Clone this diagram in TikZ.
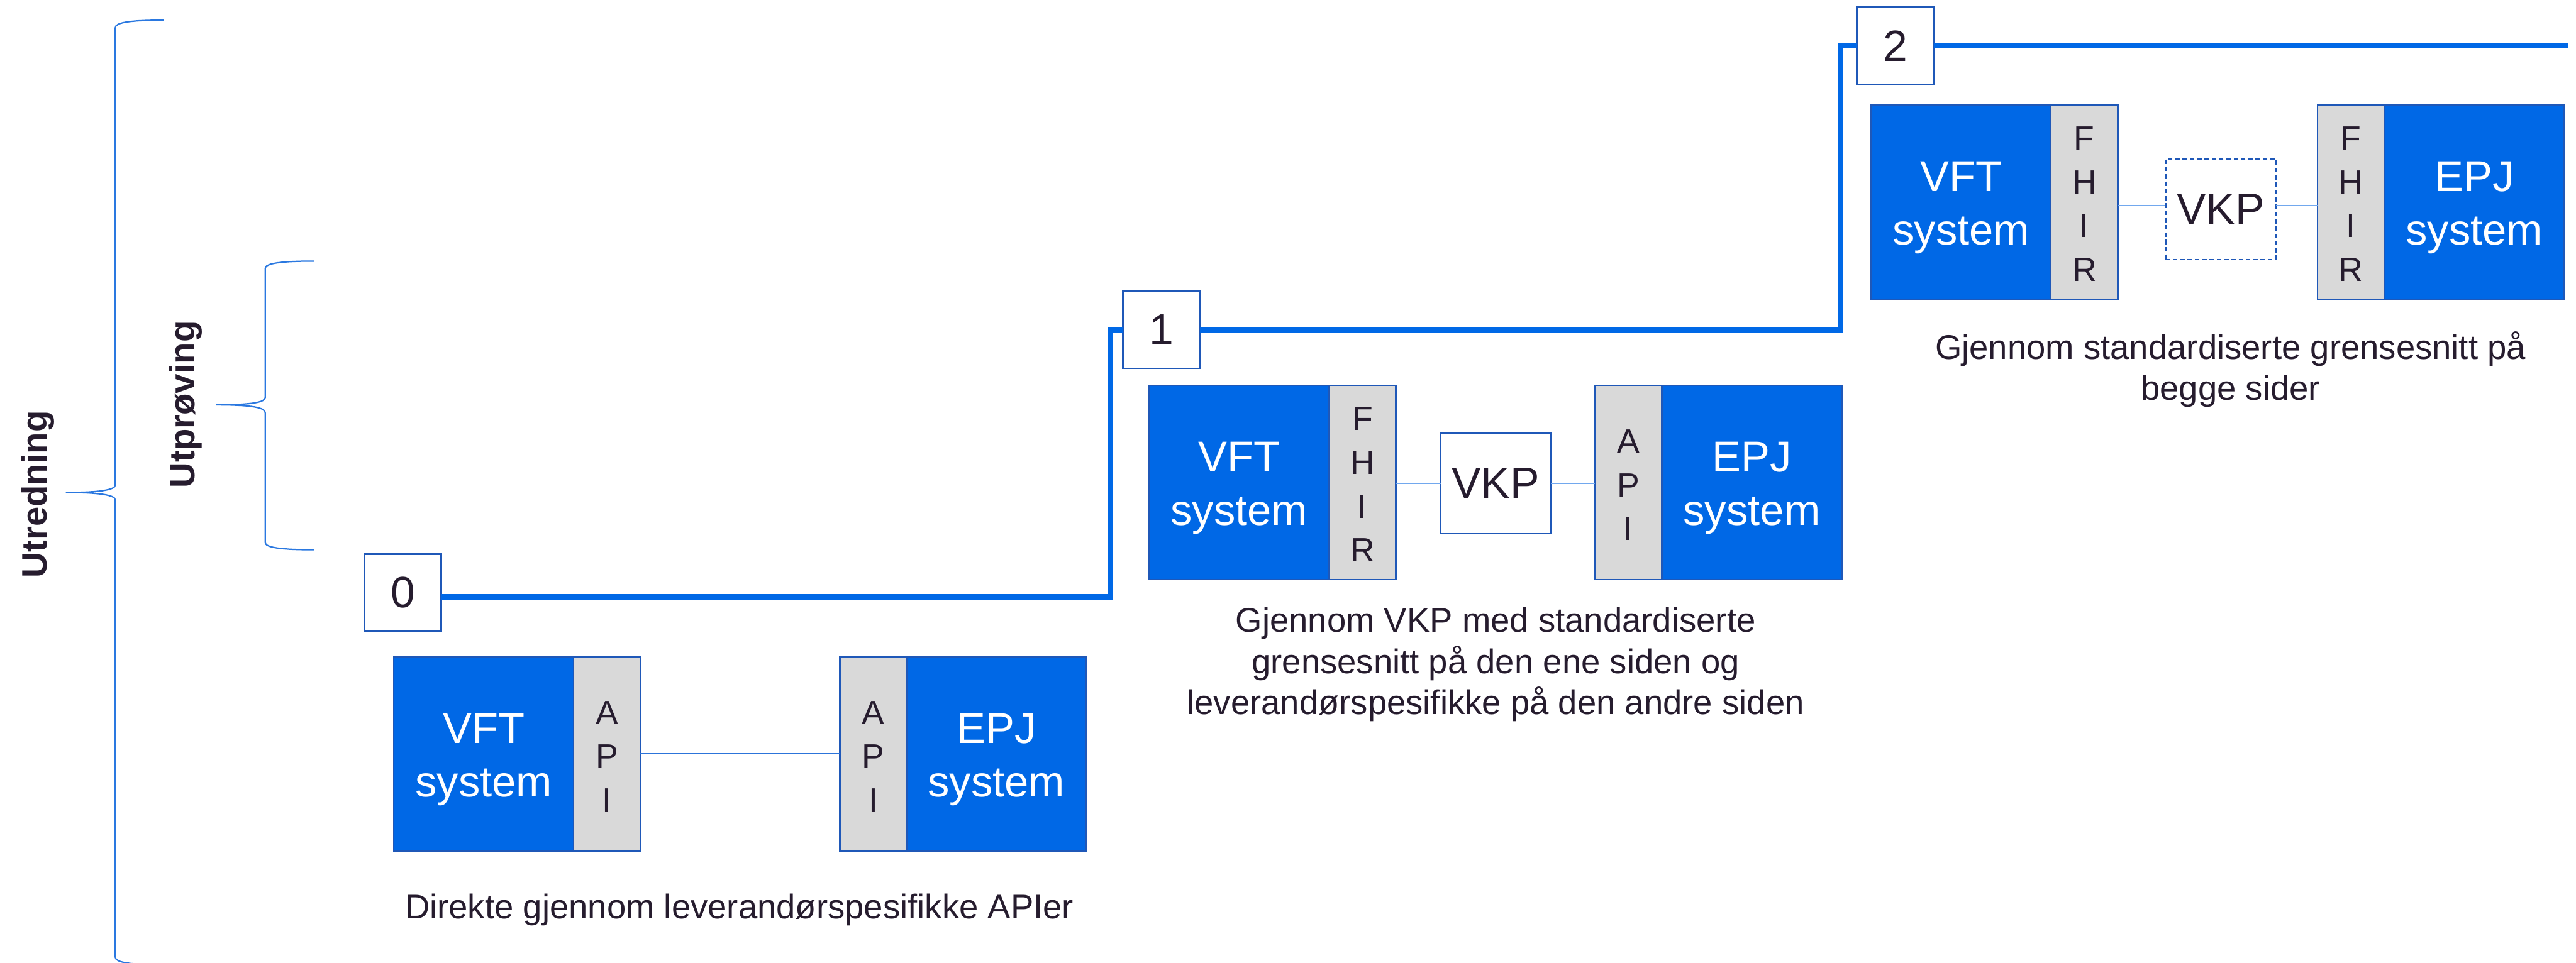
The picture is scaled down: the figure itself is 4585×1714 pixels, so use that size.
\documentclass[tikz,border=0pt]{standalone}
\usepackage{fontspec}
\setmainfont{Liberation Sans}
\definecolor{bluefill}{HTML}{0068E6}
\definecolor{boxborder}{HTML}{1F58B8}
\definecolor{greyfill}{HTML}{D9D9D9}
\definecolor{ink}{HTML}{261C2E}
\definecolor{thickblue}{HTML}{0068E6}
\definecolor{thinzero}{HTML}{2C74DA}
\definecolor{thinlight}{HTML}{72A8EE}
\definecolor{bracec}{HTML}{2A78E0}
\newcommand{\upx}{0.2pt}
\begin{document}
\begin{tikzpicture}[x=0.2pt,y=-0.2pt]
\tikzset{
 sysbox/.style={draw=boxborder, line width=0.5pt, fill=bluefill, minimum width=320*\upx, minimum height=346*\upx, inner sep=0pt, outer sep=0pt},
 stripbox/.style={draw=boxborder, line width=0.5pt, fill=greyfill, minimum width=119*\upx, minimum height=346*\upx, inner sep=0pt, outer sep=0pt},
 vkpbox/.style={draw=boxborder, line width=0.5pt, fill=white, minimum width=196*\upx, minimum height=179*\upx, inner sep=0pt, outer sep=0pt, text=ink, font=\fontsize{15.6}{18}\selectfont},
 vkpdash/.style={vkpbox, dash pattern=on 1.6pt off 1pt},
 numbox/.style={draw=boxborder, line width=0.6pt, fill=white, minimum size=137*\upx, inner sep=0pt, outer sep=0pt, text=ink, font=\fontsize{15.6}{18}\selectfont},
 boxtxt/.style={text=white, align=center, inner sep=0pt, font=\fontsize{15.4}{19}\selectfont},
 stacktxt/.style={text=ink, align=center, inner sep=0pt, font=\fontsize{12}{15.6}\selectfont},
 captxt/.style={text=ink, anchor=base, inner sep=0pt, font=\fontsize{12.2}{14.6}\selectfont},
 sidetxt/.style={text=ink, anchor=base, rotate=90, inner sep=0pt, font=\bfseries\fontsize{12.6}{15}\selectfont},
 stageline/.style={draw=thickblue, line width=2pt, line join=miter},
 linkzero/.style={draw=thinzero, line width=0.4pt},
 linklight/.style={draw=thinlight, line width=0.5pt},
 bracepath/.style={draw=bracec, line width=0.5pt},
}
\useasboundingbox (0,0) rectangle (4585,1714);

% braces and side labels
\draw[bracepath] (292,36) .. controls (230,36) and (205,40) .. (205,50) -- (205,864)
  .. controls (205,872) and (180,877) .. (117,877)
  .. controls (180,877) and (205,882) .. (205,890) -- (205,1704)
  .. controls (205,1714) and (230,1718) .. (292,1718);
\draw[bracepath] (559,465) .. controls (500,465) and (472,469) .. (472,478) -- (472,708)
  .. controls (472,716) and (450,721) .. (384,721)
  .. controls (450,721) and (472,726) .. (472,735) -- (472,966)
  .. controls (472,975) and (500,979) .. (559,979);
\node[sidetxt] (utredning) at (83,880) {Utredning};
\node[sidetxt] (utproving) at (347,720) {Utprøving};

% number boxes
\node[numbox] (n0) at (717,1055.5) {0};
\node[numbox] (n1) at (2067,587.5) {1};
\node[numbox] (n2) at (3373.5,81.5) {2};

% stage line
\coordinate (k1) at (1976,1063);
\coordinate (k3) at (3276,81.5);
\coordinate (lineend) at (4572,81.5);
\draw[stageline] (n0.east |- k1) -- (k1) |- (n1.west);
\draw[stageline] (n1.east) -| (k3) -- (n2.west);
\draw[stageline] (n2.east) -- (lineend);

% stage 0
\node[sysbox] (vft0) at (861,1342.5) {};
\node[stripbox] (s0a) at (1080.5,1342.5) {};
\node[stripbox] (s0b) at (1554.5,1342.5) {};
\node[sysbox] (epj0) at (1773.5,1342.5) {};
\draw[linkzero] (s0a.east) -- (s0b.west);
\node[boxtxt] (t0a) at (861,1352.5) {VFT\\system};
\node[boxtxt] (t0b) at (1773.5,1352.5) {EPJ\\system};
\node[stacktxt] (l0a) at (1080.5,1347) {A\\P\\I};
\node[stacktxt] (l0b) at (1554.5,1347) {A\\P\\I};
\node[captxt] (cap0) at (1316,1636) {Direkte gjennom leverandørspesifikke APIer};

% stage 1
\node[sysbox] (vft1) at (2205.5,859.5) {};
\node[stripbox] (s1a) at (2425,859.5) {};
\node[vkpbox] (vkp1) at (2662,860.5) {VKP};
\node[stripbox] (s1b) at (2898.5,859.5) {};
\node[sysbox] (epj1) at (3118,859.5) {};
\draw[linklight] (s1a.east |- vkp1.west) -- (vkp1.west);
\draw[linklight] (vkp1.east) -- (s1b.west |- vkp1.east);
\node[boxtxt] (t1a) at (2205.5,869.5) {VFT\\system};
\node[boxtxt] (t1b) at (3118,869.5) {EPJ\\system};
\node[stacktxt] (l1a) at (2425,863) {F\\H\\I\\R};
\node[stacktxt] (l1b) at (2898.5,864) {A\\P\\I};
\node[captxt] (cap1a) at (2662,1126) {Gjennom VKP med standardiserte};
\node[captxt] (cap1b) at (2662,1199) {grensesnitt på den ene siden og};
\node[captxt] (cap1c) at (2662,1272) {leverandørspesifikke på den andre siden};

% stage 2
\node[sysbox] (vft2) at (3490.5,360) {};
\node[stripbox] (s2a) at (3710,360) {};
\node[vkpdash] (vkp2) at (3952.5,372.5) {VKP};
\node[stripbox] (s2b) at (4184,360) {};
\node[sysbox] (epj2) at (4404,360) {};
\coordinate (m2) at (3952.5,366);
\draw[linklight] (s2a.east |- m2) -- (vkp2.west |- m2);
\draw[linklight] (vkp2.east |- m2) -- (s2b.west |- m2);
\node[boxtxt] (t2a) at (3490.5,370) {VFT\\system};
\node[boxtxt] (t2b) at (4404,370) {EPJ\\system};
\node[stacktxt] (l2a) at (3710,363.5) {F\\H\\I\\R};
\node[stacktxt] (l2b) at (4184,363.5) {F\\H\\I\\R};
\node[captxt] (cap2a) at (3970,640) {Gjennom standardiserte grensesnitt på};
\node[captxt] (cap2b) at (3970,712) {begge sider};
\end{tikzpicture}
\end{document}
